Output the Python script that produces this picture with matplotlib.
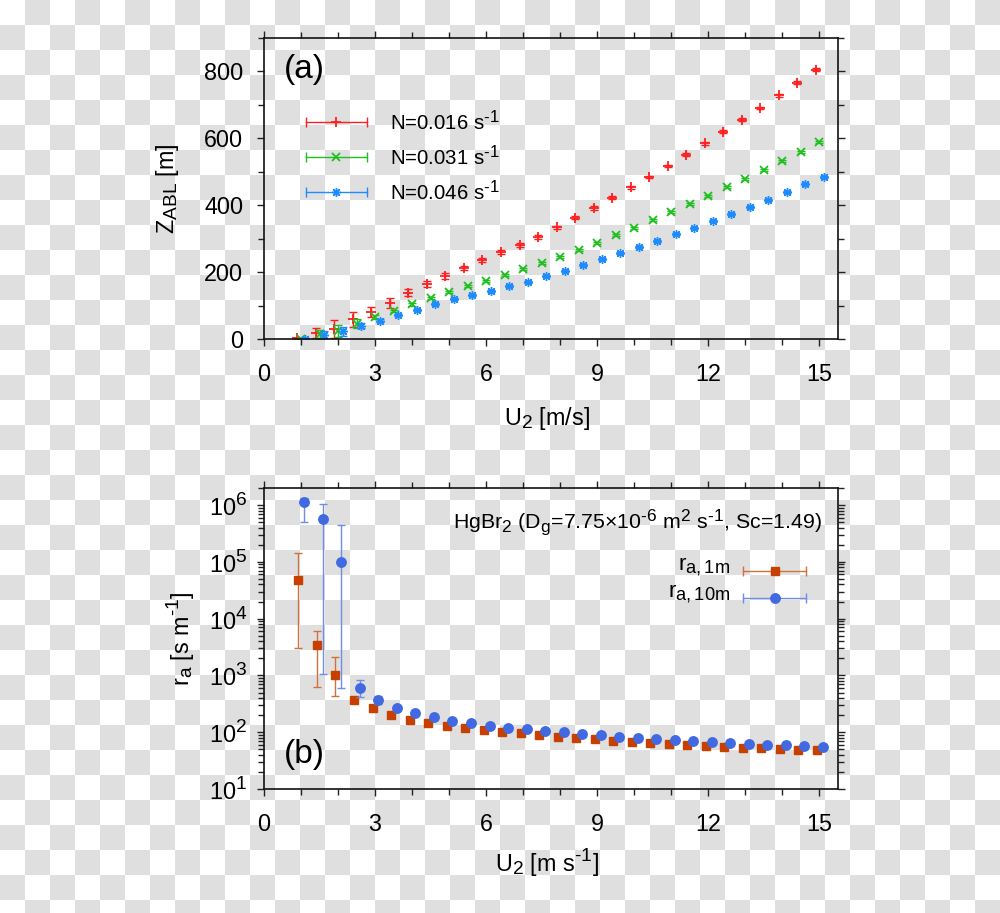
import numpy as np
import matplotlib
matplotlib.use('Agg')
import matplotlib.pyplot as plt
from matplotlib.colors import ListedColormap
from matplotlib.ticker import MultipleLocator, LogLocator, NullFormatter
try:
    import matplotlib._mathtext as _mt
    _mt.SHRINK_FACTOR = 0.82
except Exception:
    pass

plt.rcParams['font.family'] = ['Liberation Sans', 'DejaVu Sans']
plt.rcParams['mathtext.fontset'] = 'custom'
plt.rcParams['mathtext.rm'] = 'Liberation Sans'
plt.rcParams['mathtext.it'] = 'Liberation Sans:italic'
plt.rcParams['mathtext.default'] = 'regular'

HY = '\u2010'  # hyphen used as minus in exponents

# ---------------- data: panel (a) ----------------
u_red = [0.9, 1.4, 1.9, 2.4, 2.9, 3.4, 3.9, 4.4, 4.9, 5.4, 5.9, 6.4, 6.9, 7.4, 7.9,
         8.4, 8.9, 9.4, 9.9, 10.4, 10.9, 11.4, 11.9, 12.4, 12.9, 13.4, 13.9, 14.4, 14.9]
z_red = [3, 20, 32, 60, 81, 109, 139, 165, 189, 213, 237, 261, 282, 306, 334,
         363, 392, 423, 454, 485, 518, 551, 585, 620, 656, 691, 729, 767, 805]
e_red = [2, 15, 27, 22, 15, 15, 11, 10, 8, 7, 6, 6, 5, 5, 5,
         5, 5, 5, 4, 4, 4, 4, 4, 4, 4, 4, 4, 4, 4]

u_green = [1.0, 1.5, 2.0, 2.5, 3.0, 3.5, 4.0, 4.5, 5.0, 5.5, 6.0, 6.5, 7.0, 7.5, 8.0,
           8.5, 9.0, 9.5, 10.0, 10.5, 11.0, 11.5, 12.0, 12.5, 13.0, 13.5, 14.0, 14.5, 15.0]
z_green = [1, 15, 26, 47, 66, 84, 104, 124, 142, 159, 175, 191, 209, 227, 246,
           267, 288, 310, 332, 355, 379, 404, 429, 454, 479, 505, 532, 560, 588]
e_green = [2, 13, 18, 14, 6, 4, 4, 3, 3, 3, 3, 3, 3, 3, 3,
           3, 3, 3, 3, 3, 3, 3, 3, 3, 3, 3, 3, 3, 3]

u_blue = [1.12, 1.62, 2.12, 2.62, 3.12, 3.62, 4.12, 4.62, 5.12, 5.62, 6.12, 6.62, 7.12, 7.62, 8.12,
          8.62, 9.12, 9.62, 10.12, 10.62, 11.12, 11.62, 12.12, 12.62, 13.12, 13.62, 14.12, 14.62, 15.12]
z_blue = [1, 14, 24, 41, 56, 73, 87, 104, 119, 132, 145, 159, 172, 188, 204,
          221, 239, 257, 275, 293, 313, 333, 353, 374, 395, 417, 440, 463, 485]
e_blue = [2, 11, 14, 8, 4, 3, 3, 3, 3, 3, 3, 3, 3, 3, 3,
          3, 3, 3, 3, 3, 3, 3, 3, 3, 3, 3, 3, 3, 3]

labels_a = ['N=0.016 s$^{' + HY + '1}$', 'N=0.031 s$^{' + HY + '1}$', 'N=0.046 s$^{' + HY + '1}$']

# ---------------- data: panel (b) ----------------
u_1m = [0.93, 1.43, 1.93, 2.43, 2.93, 3.43, 3.93, 4.43, 4.93, 5.43, 5.93, 6.43, 6.93, 7.43, 7.93,
        8.43, 8.93, 9.43, 9.93, 10.43, 10.93, 11.43, 11.93, 12.43, 12.93, 13.43, 13.93, 14.43, 14.93]
ra_1m = [48000, 3400, 1020, 370, 263, 200, 166, 145, 129, 118, 109, 102, 96, 89, 83.5,
         78.7, 74.6, 70.6, 67, 64.3, 61.8, 60.1, 57.7, 55.4, 53.2, 51.9, 50.5, 49.1, 47.9]
lo_1m = [3000, 620, 428, 330, 250, 192, 160, 140, 125, 114, 106, 99, 93, 86, 81,
         76, 72, 68, 65, 62, 60, 58, 56, 53.5, 51.5, 50, 49, 47.5, 46.5]
hi_1m = [145000, 6000, 2100, 415, 277, 208, 172, 150, 133, 122, 112, 105, 99, 92, 86,
         81, 77, 73, 69, 66.5, 63.5, 62, 59.5, 57.3, 55, 53.8, 52, 50.7, 49.3]

u_10m = [1.09, 1.59, 2.09, 2.59, 3.09, 3.59, 4.09, 4.59, 5.09, 5.59, 6.09, 6.59, 7.09, 7.59, 8.09,
         8.59, 9.09, 9.59, 10.09, 10.59, 11.09, 11.59, 12.09, 12.59, 13.09, 13.59, 14.09, 14.59, 15.09]
ra_10m = [1.12e6, 5.8e5, 1.0e5, 596, 370, 268, 214, 182, 159, 146, 131, 121, 113, 106, 99,
          92.7, 87.9, 83.2, 78.7, 75.7, 72.6, 68.9, 67, 64.3, 61.8, 60.1, 58.6, 57, 55.4]
lo_10m = [5.0e5, 1050, 600, 410, 320, 250, 205, 176, 154, 142, 127, 118, 110, 103, 96,
          90, 85.5, 81, 76.5, 73.7, 70.7, 67, 65.3, 62.6, 60.2, 58.6, 57.1, 55.6, 54]
hi_10m = [1.35e6, 1.05e6, 4.4e5, 830, 430, 288, 224, 188, 164, 150, 135, 124, 116, 109, 102,
          95.4, 90.3, 85.4, 81, 77.7, 74.5, 70.8, 68.7, 66, 63.4, 61.6, 60.1, 58.4, 56.8]

labels_b = ['r$_{a,1m}$', 'r$_{a,10m}$']
title_b = ('HgBr$_2$ (D$_g$=7.75\u00d710$^{' + HY + '6}$ m$^2$ s$^{' + HY + '1}$, Sc=1.49)')

# ---------------- figure ----------------
W, H = 1000, 913
fig = plt.figure(figsize=(W / 100, H / 100), dpi=100)
fig.patch.set_facecolor('white')

# checkerboard background (transparency pattern of the reference)
bg = fig.add_axes([0, 0, 1, 1], zorder=-10)
yy, xx = np.indices((H, W))
pattern = ((yy // 25) + (xx // 25)) % 2
bg.imshow(pattern, cmap=ListedColormap(['white', '#dfdfdf']), aspect='auto',
          interpolation='nearest', extent=(0, W, H, 0))
bg.set_axis_off()

tick_fs = 16.8
axA = fig.add_axes([0.264, 0.6284, 0.574, 0.330])
axB = fig.add_axes([0.264, 0.1358, 0.574, 0.3297])

for ax in (axA, axB):
    ax.set_facecolor('none')
    for s in ax.spines.values():
        s.set_linewidth(1.2)
        s.set_color('#111111')
    ax.tick_params(which='both', direction='out', top=True, right=True,
                   labelsize=tick_fs, width=1.0, color='#222222')
    ax.tick_params(which='major', length=5)
    ax.tick_params(which='minor', length=4)
    ax.tick_params(axis='x', which='both', pad=12)
    ax.set_xlim(0, 15.5)
    ax.xaxis.set_major_locator(MultipleLocator(3))
    ax.xaxis.set_minor_locator(MultipleLocator(1))

# ---- panel (a)
col_a = ['#ff1f1f', '#1fbf1f', '#1e8cff']
mk_a = ['+', 'x', (8, 2, 0)]
ms_a = [6.5, 6.0, 6.5]
mew_a = [1.3, 1.3, 1.0]
series_a = [(u_red, z_red, e_red), (u_green, z_green, e_green), (u_blue, z_blue, e_blue)]
for (u, z, e), c, m, ms, mew in zip(series_a, col_a, mk_a, ms_a, mew_a):
    axA.errorbar(u, z, yerr=e, fmt='none', ecolor=c, elinewidth=1.0, capsize=3, capthick=1.0)
    axA.plot(u, z, ls='none', marker=m, color=c, ms=ms, mew=mew)

axA.set_ylim(0, 900)
axA.yaxis.set_major_locator(MultipleLocator(200))
axA.yaxis.set_minor_locator(MultipleLocator(100))
axA.tick_params(axis='y', which='both', pad=10)

axA.set_xlabel('U$_2$ [m/s]', fontsize=tick_fs, va='center')
axA.xaxis.set_label_coords(0.493, -0.262)
axA.set_ylabel('Z$_{ABL}$ [m]', fontsize=tick_fs, va='center')
axA.yaxis.set_label_coords(-0.168, 0.5)

axA.text(0.035, 0.894, '(a)', transform=axA.transAxes, fontsize=24, va='center', ha='left')

leg_y = [0.72, 0.605, 0.488]
for lab, c, m, ms, mew, y in zip(labels_a, col_a, mk_a, ms_a, mew_a, leg_y):
    axA.plot([0.0725, 0.18], [y, y], transform=axA.transAxes, color=c, lw=1.0)
    axA.plot([0.0725, 0.18], [y, y], transform=axA.transAxes, ls='none', marker='|',
             color=c, ms=7, mew=1.0)
    axA.plot([0.126], [y], transform=axA.transAxes, ls='none', marker=m, color=c, ms=ms, mew=mew)
    axA.text(0.2195, y, lab, transform=axA.transAxes, fontsize=14.7, va='center', ha='left')

# ---- panel (b)
col_b = ['#c84000', '#4169e1']
ecol_b = ['#d0703f', '#6d8ee6']
mk_b = ['s', 'o']
ms_b = [5.5, 6.8]
series_b = [(u_1m, ra_1m, lo_1m, hi_1m), (u_10m, ra_10m, lo_10m, hi_10m)]
for (u, r, lo, hi), c, ec, m, ms in zip(series_b, col_b, ecol_b, mk_b, ms_b):
    r = np.array(r)
    yerr = [r - np.array(lo), np.array(hi) - r]
    axB.errorbar(u, r, yerr=yerr, fmt='none', ecolor=ec, elinewidth=1.0, capsize=3, capthick=1.0)
    axB.plot(u, r, ls='none', marker=m, color=c, ms=ms, mec=c)

axB.set_yscale('log')
axB.set_ylim(10, 2e6)
axB.yaxis.set_major_locator(LogLocator(base=10, numticks=10))
axB.yaxis.set_minor_locator(LogLocator(base=10, subs=np.arange(2, 10), numticks=20))
axB.yaxis.set_minor_formatter(NullFormatter())
axB.tick_params(axis='y', which='both', pad=7)

axB.set_xlabel('U$_2$ [m s$^{' + HY + '1}$]', fontsize=tick_fs, va='center')
axB.xaxis.set_label_coords(0.493, -0.245)
axB.set_ylabel('r$_a$ [s m$^{' + HY + '1}$]', fontsize=tick_fs, va='center')
axB.yaxis.set_label_coords(-0.145, 0.5)

axB.text(0.034, 0.113, '(b)', transform=axB.transAxes, fontsize=24, va='center', ha='left')
axB.text(0.9715, 0.864, title_b, transform=axB.transAxes, fontsize=15.3, va='baseline', ha='right')

leg_yb = [0.724, 0.636]
for lab, c, ec, m, ms, y in zip(labels_b, col_b, ecol_b, mk_b, ms_b, leg_yb):
    axB.plot([0.835, 0.944], [y, y], transform=axB.transAxes, color=ec, lw=1.0)
    axB.plot([0.835, 0.944], [y, y], transform=axB.transAxes, ls='none', marker='|',
             color=ec, ms=7, mew=1.0)
    axB.plot([0.8895], [y], transform=axB.transAxes, ls='none', marker=m, color=c, ms=ms)
    axB.text(0.812, y, lab, transform=axB.transAxes, fontsize=16, va='baseline', ha='right')

fig.savefig('out.png', dpi=100)
